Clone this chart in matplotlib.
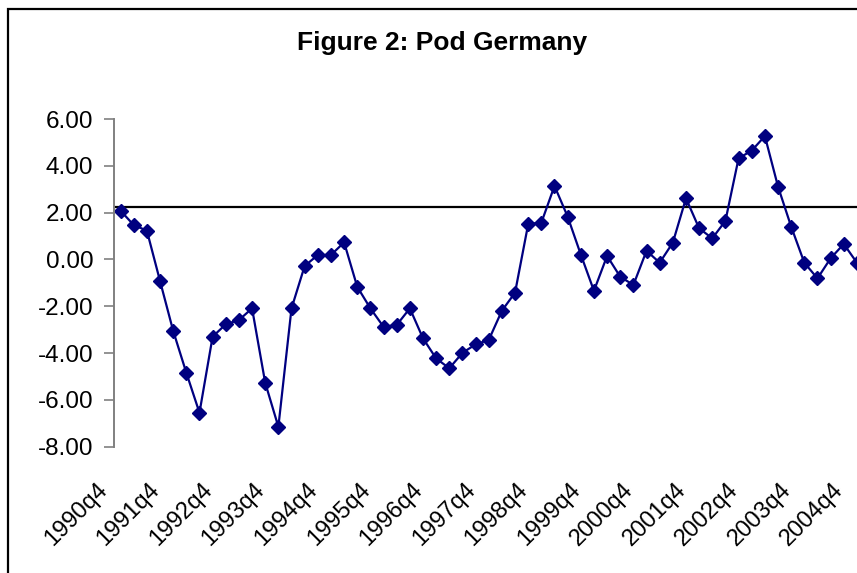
import numpy as np
import matplotlib.pyplot as plt
from matplotlib.patches import Rectangle
from matplotlib.transforms import ScaledTranslation

plt.rcParams['font.family'] = ['Liberation Sans', 'DejaVu Sans']

# quarterly values, 1990q4 .. 2004q4
pod = [2.08, 1.47, 1.23, -0.92, -3.05, -4.84, -6.55, -3.30, -2.77, -2.59,
       -2.09, -5.27, -7.15, -2.09, -0.28, 0.19, 0.19, 0.73, -1.17, -2.09,
       -2.88, -2.80, -2.09, -3.37, -4.23, -4.65, -3.99, -3.63, -3.44, -2.19,
       -1.42, 1.51, 1.57, 3.14, 1.83, 0.21, -1.34, 0.15, -0.74, -1.09,
       0.37, -0.14, 0.72, 2.61, 1.33, 0.90, 1.65, 4.32, 4.65, 5.27,
       3.11, 1.40, -0.14, -0.81, 0.05, 0.66, -0.14]
quarters = ['%dq%d' % (1990 + (i + 3) // 4, (i + 3) % 4 + 1) for i in range(len(pod))]
tick_labels = ['1990q4', '1991q4', '1992q4', '1993q4', '1994q4', '1995q4', '1996q4', '1997q4',
               '1998q4', '1999q4', '2000q4', '2001q4', '2002q4', '2003q4', '2004q4']
y_ticks = [6, 4, 2, 0, -2, -4, -6, -8]
axis_cross = 2.25

W, H = 857, 573
fig = plt.figure(figsize=(W / 100, H / 100), dpi=100)

# outer chart frame (cut off on the right and bottom)
fig.patches.append(Rectangle((8 / W, -0.1), 1.2, 1.1 - 9 / H, transform=fig.transFigure,
                             fill=False, edgecolor='black', linewidth=1.6))

ax = fig.add_axes([114 / W, 1 - 446.7 / H, (863.5 - 114) / W, (446.7 - 119) / H])
x = np.arange(len(pod))
ax.axhline(axis_cross, color='black', linewidth=1.6, zorder=1)
ax.plot(x, pod, color='#000080', linewidth=1.6, marker='D', markersize=7.2, zorder=2)

ax.set_xlim(-0.5, len(pod) - 0.5)
ax.set_ylim(-8, 6)
ax.set_yticks(y_ticks)
ax.set_yticklabels(['%.2f' % v for v in y_ticks], fontsize=17.5)
ax.tick_params(axis='y', length=7, width=1.2, color='#808080', pad=8)

pos = [quarters.index(t) for t in tick_labels]
ax.set_xticks(pos)
ax.set_xticklabels(tick_labels, rotation=45, ha='right', va='top', fontsize=17)
ax.tick_params(axis='x', length=0, pad=23)
off = ScaledTranslation(-9 / 100, 0, fig.dpi_scale_trans)
for lab in ax.get_xticklabels():
    lab.set_transform(lab.get_transform() + off)

for s in ['top', 'right', 'bottom']:
    ax.spines[s].set_visible(False)
ax.spines['left'].set_color('#808080')
ax.spines['left'].set_linewidth(1.4)
ax.patch.set_alpha(0)

fig.text(442 / W, 1 - 43 / H, 'Figure 2: Pod Germany', ha='center', va='center',
         fontsize=19, fontweight='bold')

fig.savefig('out.png', dpi=100)
